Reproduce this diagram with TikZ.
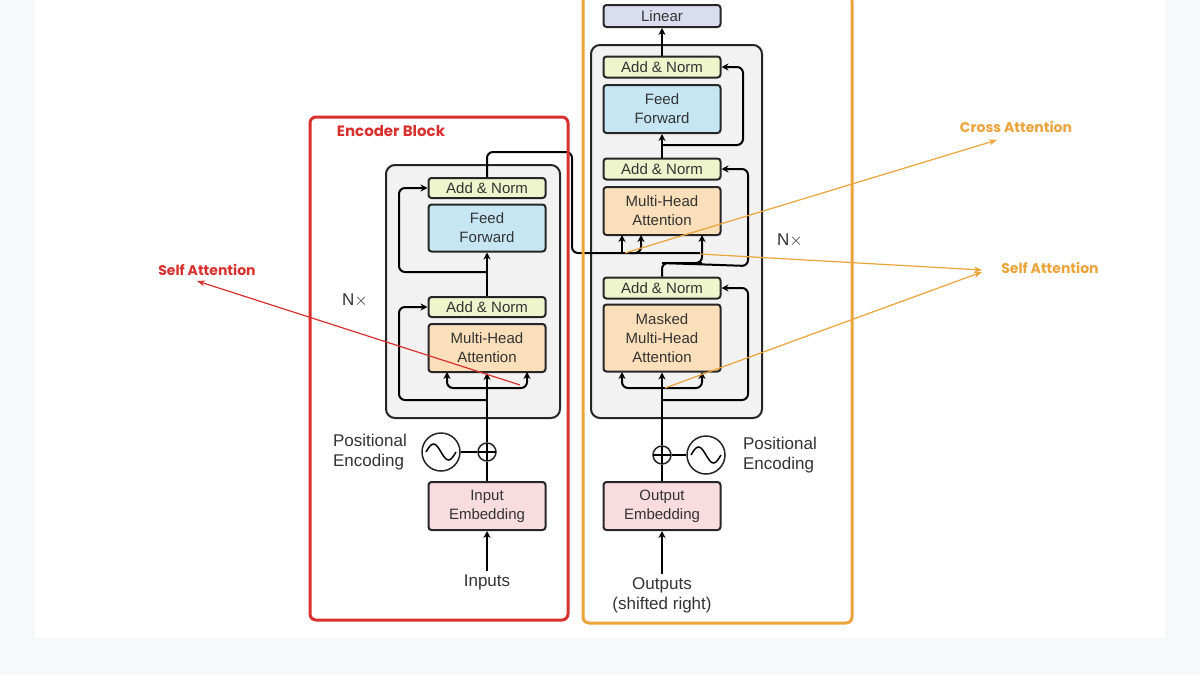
\documentclass[tikz,border=0pt]{standalone}
\usepackage{fontspec}
\setmainfont{Liberation Sans}
\newfontfamily\annfont{Poppins}
\usetikzlibrary{arrows.meta}
\definecolor{bgout}{HTML}{F7F8FA}
\definecolor{grayblk}{HTML}{F2F2F3}
\definecolor{addc}{HTML}{EEF4CC}
\definecolor{ffc}{HTML}{C6E6F4}
\definecolor{mhac}{HTML}{FADFBA}
\definecolor{embc}{HTML}{F8DCDF}
\definecolor{linc}{HTML}{DADCEF}
\definecolor{redc}{HTML}{D9302E}
\definecolor{orc}{HTML}{EBA33A}
\definecolor{txtc}{HTML}{333333}
\tikzset{
  blk/.style={draw=black!85,line width=2pt,rounded corners=3pt,minimum width=117pt,align=center,text=txtc,font=\fontsize{15}{19}\selectfont,inner sep=0pt},
  conn/.style={line width=2pt,rounded corners=6pt},
  arr/.style={conn,-{Stealth[length=7pt,width=7pt]}},
  ann/.style={line width=1.2pt,-{Stealth[length=8pt,width=6pt]}},
  lbl/.style={text=txtc,font=\fontsize{17}{20}\selectfont,align=left}
}
\begin{document}
\begin{tikzpicture}[x=1pt,y=-1pt]
\fill[bgout] (0,0) rectangle (1200,675);
\fill[white] (35,0) rectangle (1165,638);
\useasboundingbox (0,0) rectangle (1200,675);
% gray blocks
\draw[line width=2pt,fill=grayblk,rounded corners=9pt,draw=black!85] (386,165) rectangle (560,418);
\draw[line width=2pt,fill=grayblk,rounded corners=9pt,draw=black!85] (591,45) rectangle (762,418);
% encoder nodes
\node[blk,fill=addc,minimum height=20pt] (ean2) at (487,188) {Add \& Norm};
\node[blk,fill=ffc,minimum height=47pt] (eff) at (487,228) {Feed\\Forward};
\node[blk,fill=addc,minimum height=20pt] (ean1) at (487,307) {Add \& Norm};
\node[blk,fill=mhac,minimum height=48pt] (emha) at (487,348) {Multi-Head\\Attention};
\node[blk,fill=embc,minimum height=48pt] (eemb) at (487,506) {Input\\Embedding};
\node[draw=black!85,line width=1.5pt,circle,minimum size=18pt,inner sep=0pt] (eplus) at (487,452) {};
\draw[line width=1.5pt] (478,452)--(496,452) (487,443)--(487,461);
\node[draw=black!85,line width=1.5pt,circle,minimum size=38pt,inner sep=0pt] (esin) at (441,452) {};
\draw[line width=1.5pt] (426,452) sin (433.5,444) cos (441,452) sin (448.5,460) cos (456,452);
\draw[line width=2pt] (esin.east)--(eplus.west);
\node[lbl] (epos) at (370,452) {Positional\\Encoding};
\node[lbl] (ein) at (487,582) {Inputs};
\node[lbl] (enx) at (355,300) {N$\times$};
% encoder connections
\draw[arr] (ein.north)--(eemb.south);
\draw[conn] (eemb.north)--(eplus.south);
\draw[arr] (eplus.north)--(emha.south);
\draw[arr] (487,388)--(447,388)--(447,372);
\draw[arr] (487,388)--(527,388)--(527,372);
\draw[arr] (487,400)--(399,400)--(399,307)--(ean1.west);
\draw[arr] (ean1.north)--(eff.south);
\draw[arr] (487,272)--(399,272)--(399,188)--(ean2.west);
\draw[conn] (ean2.north)--(487,152)--(572,152)--(572,253)--(700,253);
% decoder nodes
\node[blk,fill=linc,minimum height=22pt] (lin) at (662,16) {Linear};
\node[blk,fill=addc,minimum height=21pt] (dan3) at (662,67) {Add \& Norm};
\node[blk,fill=ffc,minimum height=48pt] (dff) at (662,109) {Feed\\Forward};
\node[blk,fill=addc,minimum height=21pt] (dan2) at (662,169) {Add \& Norm};
\node[blk,fill=mhac,minimum height=48pt] (dmha) at (662,211) {Multi-Head\\Attention};
\node[blk,fill=addc,minimum height=21pt] (dan1) at (662,288) {Add \& Norm};
\node[blk,fill=mhac,minimum height=67pt] (dmm) at (662,338) {Masked\\Multi-Head\\Attention};
\node[blk,fill=embc,minimum height=48pt] (demb) at (662,506) {Output\\Embedding};
\node[draw=black!85,line width=1.5pt,circle,minimum size=18pt,inner sep=0pt] (dplus) at (662,455) {};
\draw[line width=1.5pt] (653,455)--(671,455) (662,446)--(662,464);
\node[draw=black!85,line width=1.5pt,circle,minimum size=38pt,inner sep=0pt] (dsin) at (706,455) {};
\draw[line width=1.5pt] (691,455) sin (698.5,447) cos (706,455) sin (713.5,463) cos (721,455);
\draw[line width=2pt] (dsin.west)--(dplus.east);
\node[lbl] (dpos) at (780,455) {Positional\\Encoding};
\node[lbl,align=center] (dout) at (662,595) {Outputs\\(shifted right)};
\node[lbl] (dnx) at (790,240) {N$\times$};
% decoder connections
\draw[arr] (dout.north)--(demb.south);
\draw[conn] (demb.north)--(dplus.south);
\draw[arr] (dplus.north)--(dmm.south);
\draw[arr] (662,388)--(622,388)--(622,372);
\draw[arr] (662,388)--(702,388)--(702,372);
\draw[arr] (662,400)--(748,400)--(748,288)--(dan1.east);
\draw[conn] (dan1.north)--(662,263)--(702,263);
\draw[arr] (690,263)--(702,263)--(702,235);
\draw[arr] (662,263)--(748,266)--(748,169)--(dan2.east);
\draw[arr] (622,253)--(622,235);
\draw[arr] (630,253)--(641,253)--(641,235);
\draw[arr] (dan2.north)--(dff.south);
\draw[arr] (662,145)--(743,145)--(743,67)--(dan3.east);
\draw[arr] (dan3.north)--(lin.south);
% highlight boxes
\draw[redc,line width=3pt,rounded corners=6pt] (310,117) rectangle (568,620);
\draw[orc,line width=3pt,rounded corners=6pt] (583,-5) rectangle (852,623);
\node[text=redc,font=\annfont\bfseries\fontsize{15}{18}\selectfont] (encl) at (391,131) {Encoder Block};
% annotations
\node[text=redc,font=\annfont\bfseries\fontsize{14}{17}\selectfont] (sa1) at (207,270) {Self Attention};
\node[text=orc,font=\annfont\bfseries\fontsize{14}{17}\selectfont] (ca) at (1016,127) {Cross Attention};
\node[text=orc,font=\annfont\bfseries\fontsize{14}{17}\selectfont] (sa2) at (1050,268) {Self Attention};
\coordinate (r0) at (520,385);
\coordinate (o1) at (625,253);
\coordinate (o2) at (700,254);
\coordinate (o3) at (665,388);
\draw[ann,redc] (r0)--(197,281);
\draw[ann,orc] (o1)--(997,140);
\draw[ann,orc] (o2)--(982,270);
\draw[ann,orc] (o3)--(982,272);
\end{tikzpicture}
\end{document}
